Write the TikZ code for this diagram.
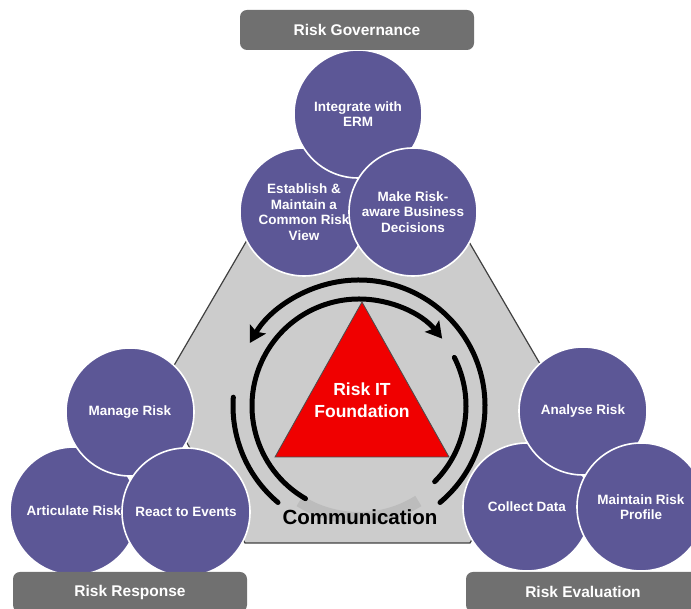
\documentclass[tikz,border=0pt]{standalone}
\usepackage{fontspec}
\setmainfont{Liberation Sans}
\usepackage{xcolor}
\usetikzlibrary{arrows.meta}
\definecolor{circblue}{RGB}{92,87,150}
\definecolor{boxgray}{RGB}{112,112,112}
\definecolor{hexgray}{RGB}{204,204,204}
\definecolor{itred}{RGB}{240,0,0}
\tikzstyle{riskcircle} = [circle, fill=circblue, draw=white, line width=1.6pt,
    minimum size=128pt, inner sep=0pt, align=center, text=white,
    font=\bfseries\fontsize{13.5}{15.5}\selectfont]
\tikzstyle{riskbox} = [fill=boxgray, rectangle, rounded corners=7pt,
    minimum width=234pt, minimum height=40pt, text=white,
    font=\bfseries\fontsize{15.5}{18}\selectfont]
\tikzstyle{ring} = [line width=5pt, line cap=round]
\tikzstyle{ringtip} = [-{Stealth[length=16pt, width=18pt, inset=3pt]}]

\begin{document}
\begin{tikzpicture}[x=1pt, y=1pt]
    \useasboundingbox (0,0) rectangle (691,609);
    % gray plate
    \draw[fill=hexgray, draw=black!75, line width=1.2pt]
        (250,374) -- (465,374) -- (557,216) -- (470,66) -- (245,66) -- (158,216) -- cycle;
    % communication rings
    \coordinate (ringc) at (359,203);
    \draw[line width=12pt, black!30, opacity=0.6]
        ([shift={(238:112)}]ringc) arc[start angle=238, end angle=302, radius=112];
    \draw[ring, ringtip] ([shift={(-50:126)}]ringc) arc[start angle=-50, end angle=150, radius=126];
    \draw[ring] ([shift={(176:126)}]ringc) arc[start angle=176, end angle=230, radius=126];
    \draw[ring, ringtip] ([shift={(240:107)}]ringc) arc[start angle=240, end angle=39, radius=107];
    \draw[ring] ([shift={(27:107)}]ringc) arc[start angle=27, end angle=-45, radius=107];
    \draw[fill=itred, draw=black!70, line width=0.8pt] (275,152) -- (362,307) -- (449,152) -- cycle;
    \node[text=white, align=center, font=\bfseries\fontsize{17.5}{22}\selectfont]
        (foundation) at (362,209) {Risk IT\\Foundation};
    \node[font=\bfseries\fontsize{20.5}{24}\selectfont] (comm) at (360,92) {Communication};

    \node[riskcircle] (establish) at (304,397) {Establish \&\\Maintain a\\Common Risk\\View};
    \node[riskcircle] (erm) at (358,495) {Integrate with\\ERM};
    \node[riskcircle] (decide) at (413,397) {Make Risk-\\aware Business\\Decisions};

    \node[riskcircle] (articulate) at (74,98) {Articulate Risk};
    \node[riskcircle] (manage) at (130,197) {Manage Risk};
    \node[riskcircle] (react) at (186,97) {React to Events};

    \node[riskcircle] (collect) at (527,102) {Collect Data};
    \node[riskcircle] (analyse) at (583,198) {Analyse Risk};
    \node[riskcircle] (profile) at (641,102) {Maintain Risk\\Profile};

    \node[riskbox] (governance) at (357,579) {Risk Governance};
    \node[riskbox] (response) at (130,17) {Risk Response};
    \node[riskbox] (evaluation) at (583,17) {Risk Evaluation};
\end{tikzpicture}
\end{document}
